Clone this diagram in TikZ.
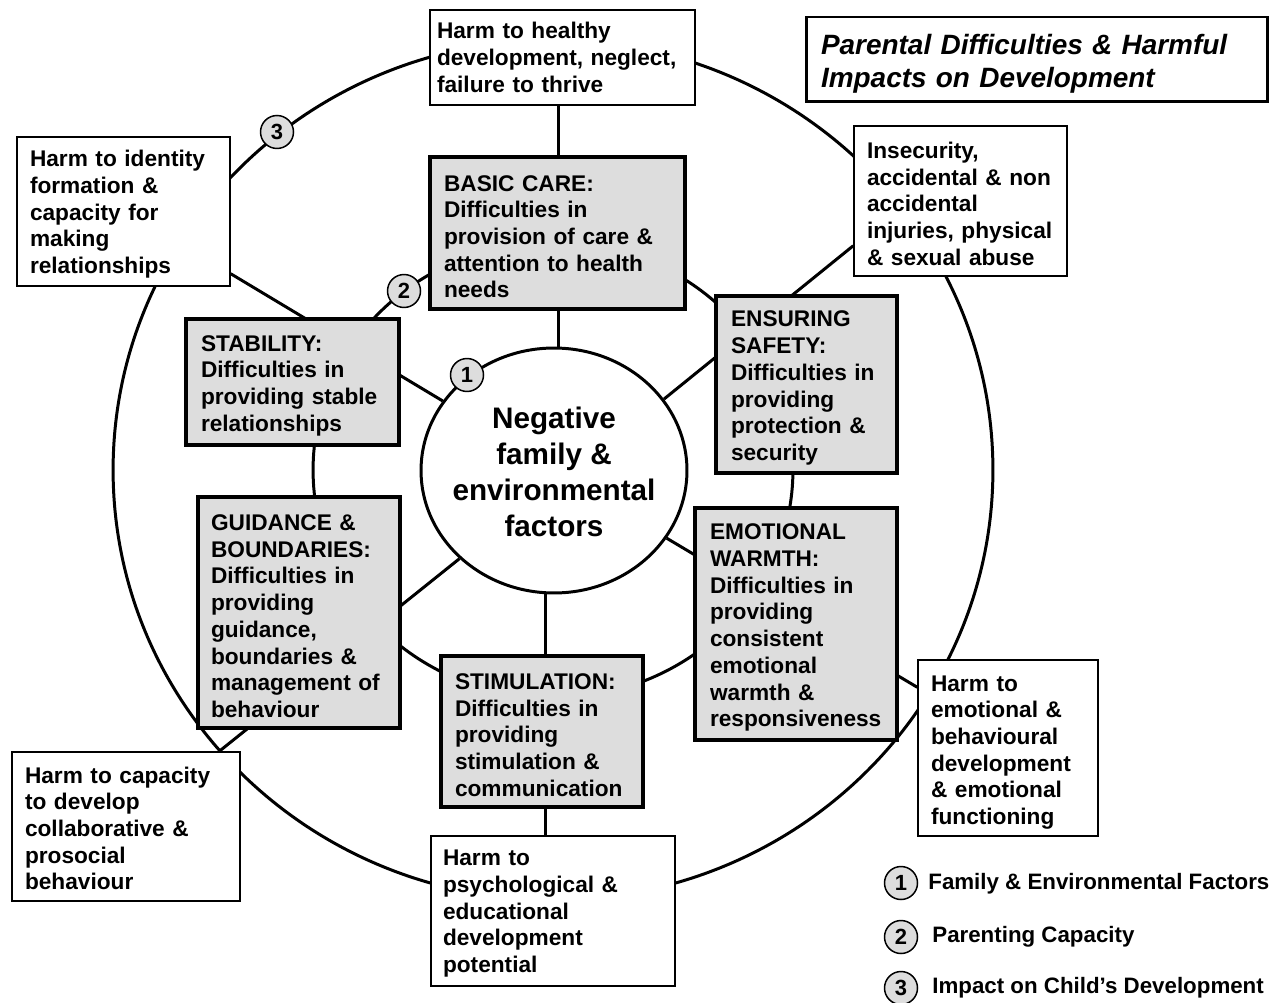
\documentclass[tikz,border=0pt]{standalone}
\usepackage{fontspec}
\setmainfont{Liberation Sans}
\usetikzlibrary{shapes.geometric,calc}
\definecolor{boxgray}{RGB}{221,221,221}
\pgfdeclarelayer{bg}
\pgfsetlayers{bg,main}
\begin{document}
\begin{tikzpicture}[x=0.02cm,y=-0.02cm,
  ring/.style={line width=1.7pt},
  spoke/.style={line width=1.7pt},
  boxsize/.style n args={3}{minimum width=#1cm, minimum height=#2cm, text width=#3cm},
  boxtext/.style={align=left, inner sep=0pt, font=\fontsize{12.9}{15.2}\selectfont\bfseries},
  lowered/.style={text height=#1pt},
  carebox/.style={boxtext, draw, line width=1.9pt, fill=boxgray, lowered=13.2},
  harmbox/.style={boxtext, draw, line width=0.85pt, fill=white},
  badge/.style={circle, draw, line width=0.85pt, fill=boxgray, minimum size=0.66cm,
    inner sep=0pt, font=\fontsize{12.5}{14}\selectfont\bfseries},
  legendtext/.style={anchor=base west, inner sep=0pt, font=\fontsize{12.7}{15}\selectfont\bfseries}]

\useasboundingbox (0,0) rectangle (1270,1003);

% centre: family & environmental factors
\node[ellipse, draw, line width=1.7pt, fill=white, minimum width=5.32cm,
      minimum height=4.9cm, inner sep=0pt] (ctr) at (554,470.5) {};
\node[align=center, inner sep=0pt, font=\fontsize{16.9}{20.4}\selectfont\bfseries]
  (ctrtext) at (554,472) {Negative\\family \&\\environmental\\factors};

% parenting capacity boxes
\node[carebox, boxsize={5.10}{3.04}{4.54}] (basic) at (557.5,233)
  {BASIC CARE:\\Difficulties in\\provision of care \&\\attention to health\\needs};
\node[carebox, boxsize={4.26}{2.52}{3.66}] (stab) at (292.5,382)
  {STABILITY:\\Difficulties in\\providing stable\\relationships};
\node[carebox, boxsize={3.62}{3.54}{3.02}] (safety) at (806.5,384.5)
  {ENSURING\\SAFETY:\\Difficulties in\\providing\\protection \&\\security};
\node[carebox, boxsize={4.04}{4.64}{3.44}] (warmth) at (796,624)
  {EMOTIONAL\\WARMTH:\\Difficulties in\\providing\\consistent\\emotional\\warmth \&\\responsiveness};
\node[carebox, boxsize={4.04}{4.62}{3.52}] (guid) at (299,612.5)
  {GUIDANCE \&\\BOUNDARIES:\\Difficulties in\\providing\\guidance,\\boundaries \&\\management of\\behaviour};
\node[carebox, boxsize={4.04}{3.02}{3.48}] (stim) at (542,731.5)
  {STIMULATION:\\Difficulties in\\providing\\stimulation \&\\communication};

% impacts on the child's development
\node[harmbox, boxsize={5.30}{1.90}{5.02}] (top) at (562.5,57.5)
  {Harm to healthy\\development, neglect,\\failure to thrive};
\node[harmbox, lowered=12.6, boxsize={4.26}{3.00}{3.74}] (insec) at (960.5,201)
  {Insecurity,\\accidental \& non\\accidental\\injuries, physical\\\& sexual abuse};
\node[harmbox, lowered=12.6, boxsize={4.26}{2.98}{3.74}] (ident) at (123.5,211.5)
  {Harm to identity\\formation \&\\capacity for\\making\\relationships};
\node[harmbox, lowered=14, boxsize={3.60}{3.52}{3.08}] (emo) at (1008,748)
  {Harm to\\emotional \&\\behavioural\\development\\\& emotional\\functioning};
\node[harmbox, lowered=11.5, boxsize={4.56}{2.98}{4.04}] (capac) at (126,826.5)
  {Harm to capacity\\to develop\\collaborative \&\\prosocial\\behaviour};
\node[harmbox, lowered=12, boxsize={4.88}{3.00}{4.40}] (psych) at (553,911)
  {Harm to\\psychological \&\\educational\\development\\potential};

% title
\node[boxtext, draw, line width=1.7pt, fill=white, boxsize={9.24}{1.70}{8.64},
      font=\fontsize{15.9}{18.8}\selectfont\bfseries\itshape, lowered=16] (title) at (1037,59.5)
  {Parental Difficulties \& Harmful\\Impacts on Development};

% ring markers
\node[badge] (b1) at (467,375) {1};
\node[badge] (b2) at (404,291) {2};
\node[badge] (b3) at (277,132) {3};

% legend
\node[badge] (l1) at (901,883) {1};
\node[badge] (l2) at (901,937) {2};
\node[badge] (l3) at (901,988) {3};
\node[legendtext] (lt1) at (928,889) {Family \& Environmental Factors};
\node[legendtext] (lt2) at (932,942) {Parenting Capacity};
\node[legendtext] (lt3) at (932,993) {Impact on Child’s Development};

% rings and spokes behind the boxes
\begin{pgfonlayer}{bg}
  \draw[ring] (553,470) ellipse [x radius=8.8cm, y radius=8.6cm];
  \draw[ring] (553,470) ellipse [x radius=4.8cm, y radius=4.56cm];
  \draw[spoke] (ctr.88.5) -- (ctr.88.5 |- top.south);
  \draw[spoke] (ctr.266.7) -- (ctr.266.7 |- psych.north);
  \draw[spoke] (ctr.148) -- ($(ident.south east)+(0,-13)$);
  \draw[spoke] (ctr.33.7) -- ($(insec.south west)+(0,-31)$);
  \draw[spoke] (ctr.-31.1) -- ($(emo.north west)+(0,28)$);
  \draw[spoke] (ctr.223.8) -- ($(capac.north west)+(208,0)$);
\end{pgfonlayer}
\end{tikzpicture}
\end{document}
